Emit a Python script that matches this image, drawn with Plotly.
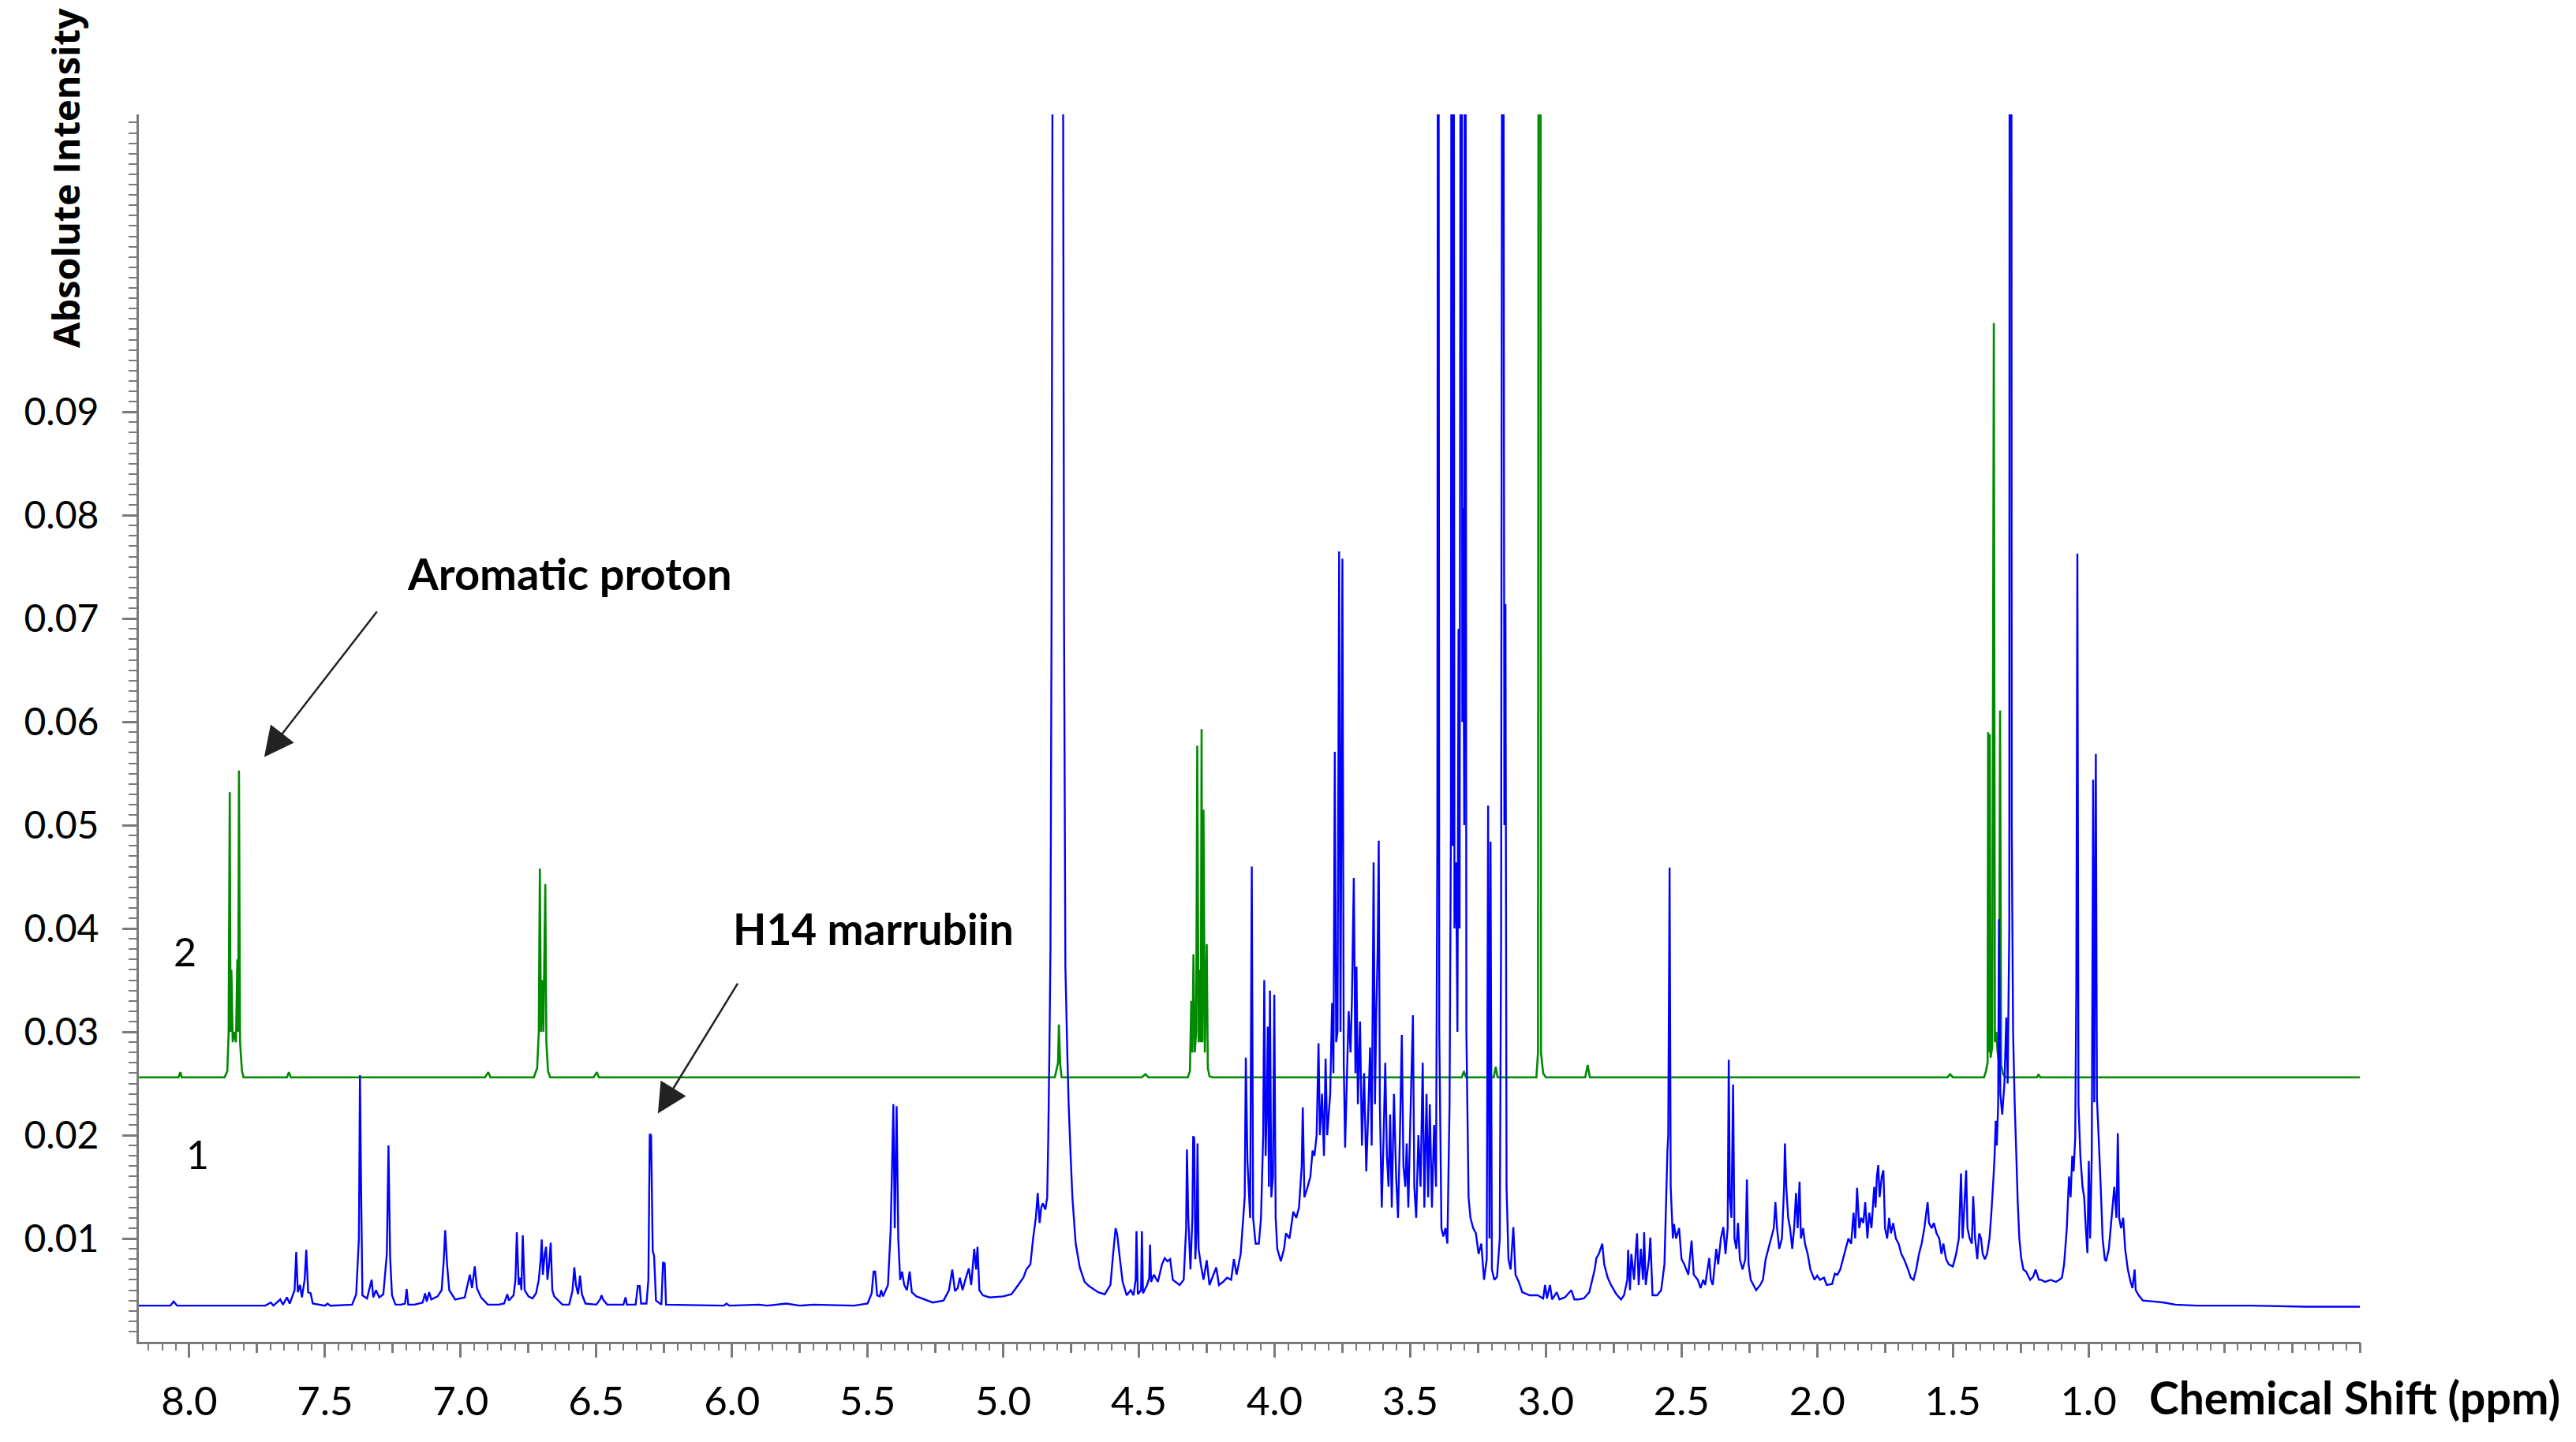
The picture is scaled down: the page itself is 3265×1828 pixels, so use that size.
import plotly.graph_objects as go

# ---------------- data (ppm, absolute intensity) ----------------
# Spectrum 1 (blue)
blue_spectrum = [
    (8.19, 0.0035), (8.07, 0.0035), (8.058, 0.0039), (8.045, 0.0035), (7.72, 0.0035),
    (7.70, 0.0038), (7.69, 0.0035), (7.665, 0.0041), (7.655, 0.0036), (7.64, 0.0043),
    (7.63, 0.0037), (7.612, 0.0050), (7.606, 0.0087), (7.600, 0.0048), (7.592, 0.0055),
    (7.585, 0.0043), (7.575, 0.0060), (7.569, 0.0089), (7.562, 0.0048), (7.553, 0.0047),
    (7.545, 0.0037), (7.50, 0.0035), (7.491, 0.0037), (7.48, 0.0035), (7.40, 0.0036),
    (7.385, 0.0046), (7.375, 0.0100), (7.371, 0.0258), (7.367, 0.0152), (7.362, 0.0045),
    (7.345, 0.0042), (7.328, 0.0060), (7.322, 0.0043), (7.312, 0.0050), (7.30, 0.0043),
    (7.285, 0.0046), (7.272, 0.0085), (7.266, 0.0190), (7.260, 0.0083), (7.253, 0.0045),
    (7.24, 0.0036), (7.22, 0.0036), (7.205, 0.0037), (7.199, 0.0051), (7.193, 0.0036),
    (7.17, 0.0036), (7.14, 0.0038), (7.131, 0.0047), (7.125, 0.0039), (7.116, 0.0048),
    (7.108, 0.0041), (7.085, 0.0044), (7.07, 0.0050), (7.062, 0.0080), (7.057, 0.0108),
    (7.050, 0.0075), (7.042, 0.0050), (7.02, 0.0041), (6.985, 0.0043), (6.972, 0.0058),
    (6.966, 0.0065), (6.958, 0.0052), (6.948, 0.0073), (6.940, 0.0052), (6.925, 0.0043),
    (6.90, 0.0036), (6.86, 0.0036), (6.84, 0.0037), (6.828, 0.0046), (6.822, 0.0040),
    (6.805, 0.0045), (6.798, 0.0060), (6.793, 0.0106), (6.786, 0.0055), (6.780, 0.0062),
    (6.776, 0.0050), (6.771, 0.0103), (6.764, 0.0050), (6.750, 0.0044), (6.735, 0.0042),
    (6.722, 0.0047), (6.712, 0.0060), (6.705, 0.0080), (6.701, 0.0099), (6.697, 0.0065),
    (6.690, 0.0085), (6.685, 0.0092), (6.680, 0.0060), (6.674, 0.0075), (6.668, 0.0096),
    (6.662, 0.0050), (6.655, 0.0044), (6.625, 0.0036), (6.600, 0.0036), (6.588, 0.0049),
    (6.581, 0.0072), (6.575, 0.0055), (6.567, 0.0046), (6.560, 0.0064), (6.553, 0.0046),
    (6.54, 0.0037), (6.50, 0.0036), (6.486, 0.0041), (6.481, 0.0045), (6.475, 0.0041),
    (6.46, 0.0036), (6.40, 0.0036), (6.392, 0.0043), (6.387, 0.0036), (6.355, 0.0036),
    (6.347, 0.0054), (6.340, 0.0054), (6.335, 0.0037), (6.315, 0.0037), (6.308, 0.0060),
    (6.303, 0.0201), (6.298, 0.0200), (6.292, 0.0088), (6.287, 0.0083), (6.280, 0.0040),
    (6.260, 0.0036), (6.254, 0.0077), (6.248, 0.0076), (6.243, 0.0036), (6.03, 0.0035),
    (6.02, 0.0037), (6.01, 0.0035), (5.90, 0.0036), (5.87, 0.0035), (5.80, 0.0037),
    (5.75, 0.0035), (5.70, 0.0036), (5.55, 0.0035), (5.50, 0.0037), (5.485, 0.0047),
    (5.478, 0.0068), (5.472, 0.0068), (5.465, 0.0045), (5.455, 0.0044), (5.450, 0.0050),
    (5.443, 0.0044), (5.425, 0.0055), (5.415, 0.0108), (5.405, 0.0230), (5.400, 0.0110),
    (5.393, 0.0228), (5.387, 0.0100), (5.380, 0.0060), (5.373, 0.0068), (5.365, 0.0055),
    (5.355, 0.0050), (5.345, 0.0068), (5.337, 0.0048), (5.320, 0.0044), (5.26, 0.0038),
    (5.22, 0.0040), (5.200, 0.0050), (5.188, 0.0070), (5.178, 0.0049), (5.168, 0.0052),
    (5.160, 0.0062), (5.150, 0.0050), (5.140, 0.0060), (5.127, 0.0071), (5.118, 0.0055),
    (5.107, 0.0090), (5.100, 0.0070), (5.095, 0.0092), (5.088, 0.0050), (5.075, 0.0045),
    (5.05, 0.0043), (5.00, 0.0044), (4.97, 0.0046), (4.945, 0.0055), (4.926, 0.0062),
    (4.915, 0.0070), (4.900, 0.0075), (4.890, 0.0100), (4.880, 0.0120), (4.873, 0.0144),
    (4.866, 0.0115), (4.860, 0.0130), (4.854, 0.0134), (4.845, 0.0128), (4.838, 0.0140),
    (4.834, 0.0200), (4.830, 0.0280), (4.826, 0.0380), (4.822, 0.0700), (4.818, 0.1300),
    (4.800, 0.3000), (4.780, 0.1300), (4.776, 0.0700), (4.771, 0.0363), (4.764, 0.0280),
    (4.759, 0.0230), (4.752, 0.0182), (4.745, 0.0139), (4.733, 0.0095), (4.718, 0.0072),
    (4.700, 0.0058), (4.684, 0.0054), (4.650, 0.0048), (4.626, 0.0046), (4.605, 0.0055),
    (4.595, 0.0085), (4.586, 0.0110), (4.580, 0.0104), (4.570, 0.0080), (4.560, 0.0058),
    (4.545, 0.0045), (4.530, 0.0050), (4.520, 0.0045), (4.512, 0.0060), (4.509, 0.0107),
    (4.504, 0.0046), (4.492, 0.0050), (4.489, 0.0107), (4.485, 0.0047), (4.470, 0.0055),
    (4.462, 0.0062), (4.459, 0.0094), (4.455, 0.0058), (4.445, 0.0065), (4.430, 0.0058),
    (4.415, 0.0075), (4.405, 0.0081), (4.395, 0.0078), (4.385, 0.0080), (4.375, 0.0060),
    (4.350, 0.0055), (4.335, 0.0060), (4.326, 0.0110), (4.323, 0.0186), (4.318, 0.0120),
    (4.310, 0.0070), (4.303, 0.0120), (4.300, 0.0199), (4.296, 0.0197), (4.292, 0.0080),
    (4.287, 0.0110), (4.284, 0.0192), (4.280, 0.0090), (4.272, 0.0075), (4.262, 0.0060),
    (4.250, 0.0079), (4.240, 0.0055), (4.215, 0.0072), (4.205, 0.0055), (4.190, 0.0058),
    (4.175, 0.0062), (4.160, 0.0060), (4.150, 0.0080), (4.140, 0.0065), (4.125, 0.0085),
    (4.110, 0.0140), (4.106, 0.0275), (4.100, 0.0175), (4.090, 0.0120), (4.084, 0.0460),
    (4.079, 0.0120), (4.070, 0.0095), (4.058, 0.0095), (4.050, 0.0120), (4.042, 0.0200),
    (4.038, 0.0350), (4.033, 0.0180), (4.028, 0.0240), (4.025, 0.0305), (4.021, 0.0150),
    (4.017, 0.0340), (4.012, 0.0140), (4.006, 0.0160), (4.001, 0.0336), (3.996, 0.0120),
    (3.990, 0.0090), (3.977, 0.0078), (3.965, 0.0090), (3.958, 0.0105), (3.945, 0.0100),
    (3.931, 0.0126), (3.920, 0.0120), (3.910, 0.0130), (3.900, 0.0170), (3.896, 0.0227),
    (3.890, 0.0140), (3.878, 0.0150), (3.868, 0.0160), (3.860, 0.0185), (3.853, 0.0180),
    (3.845, 0.0200), (3.838, 0.0289), (3.833, 0.0200), (3.825, 0.0240), (3.818, 0.0180),
    (3.812, 0.0274), (3.806, 0.0200), (3.795, 0.0240), (3.788, 0.0328), (3.783, 0.0260),
    (3.778, 0.0571), (3.773, 0.0290), (3.768, 0.0300), (3.762, 0.0765), (3.757, 0.0300),
    (3.750, 0.0758), (3.745, 0.0270), (3.740, 0.0188), (3.733, 0.0260), (3.727, 0.0320),
    (3.720, 0.0280), (3.715, 0.0330), (3.708, 0.0449), (3.702, 0.0260), (3.698, 0.0363),
    (3.693, 0.0230), (3.685, 0.0310), (3.678, 0.0190), (3.670, 0.0260), (3.662, 0.0165),
    (3.655, 0.0220), (3.648, 0.0285), (3.642, 0.0190), (3.635, 0.0464), (3.630, 0.0230),
    (3.625, 0.0320), (3.620, 0.0380), (3.616, 0.0485), (3.612, 0.0230), (3.605, 0.0130),
    (3.598, 0.0200), (3.592, 0.0270), (3.586, 0.0180), (3.580, 0.0150), (3.574, 0.0220),
    (3.568, 0.0130), (3.560, 0.0240), (3.552, 0.0160), (3.545, 0.0120), (3.538, 0.0200),
    (3.531, 0.0297), (3.525, 0.0170), (3.518, 0.0150), (3.513, 0.0192), (3.507, 0.0130),
    (3.500, 0.0210), (3.490, 0.0316), (3.485, 0.0150), (3.478, 0.0120), (3.470, 0.0200),
    (3.462, 0.0150), (3.454, 0.0270), (3.448, 0.0130), (3.440, 0.0240), (3.434, 0.0140),
    (3.428, 0.0230), (3.420, 0.0130), (3.412, 0.0210), (3.405, 0.0150), (3.400, 0.0496),
    (3.397, 0.2000), (3.393, 0.0300), (3.385, 0.0110), (3.378, 0.0102), (3.370, 0.0110),
    (3.363, 0.0095), (3.355, 0.0230), (3.350, 0.0500), (3.347, 0.2000), (3.344, 0.0480),
    (3.341, 0.2000), (3.337, 0.0400), (3.331, 0.0464), (3.326, 0.0300), (3.322, 0.0690),
    (3.318, 0.0400), (3.312, 0.2000), (3.308, 0.0600), (3.305, 0.0807), (3.301, 0.0500),
    (3.298, 0.2000), (3.293, 0.0300), (3.285, 0.0140), (3.278, 0.0120), (3.268, 0.0110),
    (3.258, 0.0105), (3.248, 0.0085), (3.238, 0.0095), (3.228, 0.0060), (3.218, 0.0080),
    (3.213, 0.0519), (3.208, 0.0100), (3.204, 0.0484), (3.199, 0.0070), (3.190, 0.0060),
    (3.180, 0.0063), (3.170, 0.0100), (3.165, 0.0398), (3.159, 0.2000), (3.153, 0.0500),
    (3.149, 0.0714), (3.145, 0.0150), (3.138, 0.0080), (3.130, 0.0070), (3.120, 0.0111),
    (3.112, 0.0065), (3.100, 0.0058), (3.087, 0.0048), (3.060, 0.0045), (3.030, 0.0045),
    (3.010, 0.0042), (3.003, 0.0055), (2.996, 0.0042), (2.985, 0.0055), (2.977, 0.0041),
    (2.960, 0.0048), (2.950, 0.0041), (2.930, 0.0043), (2.906, 0.0050), (2.895, 0.0041),
    (2.880, 0.0041), (2.860, 0.0042), (2.840, 0.0048), (2.820, 0.0070), (2.814, 0.0081),
    (2.805, 0.0085), (2.792, 0.0095), (2.785, 0.0075), (2.772, 0.0062), (2.760, 0.0055),
    (2.740, 0.0046), (2.723, 0.0041), (2.712, 0.0045), (2.700, 0.0060), (2.697, 0.0089),
    (2.690, 0.0050), (2.685, 0.0085), (2.675, 0.0060), (2.668, 0.0090), (2.664, 0.0105),
    (2.658, 0.0055), (2.650, 0.0090), (2.642, 0.0060), (2.638, 0.0106), (2.632, 0.0055),
    (2.620, 0.0080), (2.615, 0.0101), (2.607, 0.0045), (2.590, 0.0045), (2.575, 0.0050),
    (2.563, 0.0075), (2.552, 0.0185), (2.549, 0.0200), (2.544, 0.0459), (2.540, 0.0150),
    (2.532, 0.0100), (2.528, 0.0114), (2.520, 0.0100), (2.509, 0.0110), (2.500, 0.0080),
    (2.490, 0.0075), (2.475, 0.0065), (2.463, 0.0098), (2.455, 0.0065), (2.440, 0.0060),
    (2.430, 0.0052), (2.420, 0.0060), (2.413, 0.0055), (2.398, 0.0081), (2.392, 0.0060),
    (2.385, 0.0055), (2.372, 0.0090), (2.365, 0.0075), (2.355, 0.0100), (2.346, 0.0111),
    (2.338, 0.0085), (2.330, 0.0110), (2.326, 0.0273), (2.322, 0.0140), (2.316, 0.0120),
    (2.310, 0.0249), (2.305, 0.0100), (2.298, 0.0090), (2.292, 0.0115), (2.285, 0.0080),
    (2.275, 0.0070), (2.265, 0.0080), (2.259, 0.0157), (2.253, 0.0075), (2.245, 0.0060),
    (2.235, 0.0055), (2.225, 0.0050), (2.210, 0.0055), (2.200, 0.0060), (2.190, 0.0080),
    (2.180, 0.0090), (2.170, 0.0100), (2.160, 0.0110), (2.154, 0.0135), (2.148, 0.0110),
    (2.140, 0.0090), (2.130, 0.0100), (2.122, 0.0150), (2.119, 0.0192), (2.114, 0.0150),
    (2.107, 0.0120), (2.100, 0.0110), (2.092, 0.0090), (2.085, 0.0110), (2.078, 0.0144),
    (2.072, 0.0110), (2.065, 0.0155), (2.060, 0.0100), (2.052, 0.0110), (2.045, 0.0095),
    (2.035, 0.0085), (2.025, 0.0070), (2.010, 0.0060), (2.000, 0.0064), (1.990, 0.0060),
    (1.975, 0.0062), (1.965, 0.0055), (1.945, 0.0056), (1.935, 0.0066), (1.925, 0.0065),
    (1.915, 0.0070), (1.905, 0.0080), (1.895, 0.0090), (1.885, 0.0100), (1.875, 0.0095),
    (1.866, 0.0125), (1.860, 0.0100), (1.853, 0.0149), (1.845, 0.0110), (1.838, 0.0120),
    (1.830, 0.0115), (1.823, 0.0135), (1.815, 0.0100), (1.808, 0.0125), (1.800, 0.0110),
    (1.790, 0.0150), (1.785, 0.0130), (1.780, 0.0160), (1.775, 0.0171), (1.770, 0.0140),
    (1.762, 0.0160), (1.756, 0.0166), (1.750, 0.0110), (1.742, 0.0100), (1.735, 0.0120),
    (1.728, 0.0105), (1.720, 0.0115), (1.710, 0.0100), (1.700, 0.0095), (1.690, 0.0085),
    (1.680, 0.0080), (1.665, 0.0070), (1.655, 0.0062), (1.645, 0.0060), (1.635, 0.0070),
    (1.625, 0.0085), (1.615, 0.0095), (1.605, 0.0110), (1.598, 0.0125), (1.593, 0.0135),
    (1.588, 0.0115), (1.578, 0.0110), (1.570, 0.0115), (1.560, 0.0105), (1.550, 0.0100),
    (1.542, 0.0085), (1.535, 0.0095), (1.525, 0.0080), (1.515, 0.0075), (1.500, 0.0073),
    (1.488, 0.0085), (1.478, 0.0100), (1.470, 0.0163), (1.464, 0.0100), (1.458, 0.0130),
    (1.451, 0.0166), (1.446, 0.0110), (1.438, 0.0100), (1.430, 0.0095), (1.425, 0.0141),
    (1.418, 0.0100), (1.410, 0.0080), (1.403, 0.0105), (1.396, 0.0100), (1.390, 0.0085),
    (1.382, 0.0080), (1.374, 0.0085), (1.365, 0.0100), (1.358, 0.0125), (1.350, 0.0160),
    (1.346, 0.0181), (1.342, 0.0214), (1.338, 0.0190), (1.333, 0.0230), (1.330, 0.0409),
    (1.325, 0.0240), (1.318, 0.0220), (1.310, 0.0250), (1.303, 0.0314), (1.298, 0.0250),
    (1.292, 0.0400), (1.290, 0.2000), (1.285, 0.2000), (1.283, 0.0500), (1.278, 0.0300),
    (1.272, 0.0230), (1.266, 0.0180), (1.261, 0.0136), (1.255, 0.0100), (1.248, 0.0081),
    (1.240, 0.0070), (1.230, 0.0068), (1.215, 0.0060), (1.204, 0.0063), (1.195, 0.0070),
    (1.183, 0.0060), (1.175, 0.0060), (1.160, 0.0058), (1.140, 0.0060), (1.120, 0.0058),
    (1.108, 0.0060), (1.098, 0.0062), (1.090, 0.0075), (1.080, 0.0110), (1.072, 0.0160),
    (1.066, 0.0140), (1.060, 0.0180), (1.055, 0.0165), (1.049, 0.0197), (1.045, 0.0344),
    (1.041, 0.0763), (1.037, 0.0230), (1.030, 0.0180), (1.022, 0.0150), (1.016, 0.0140),
    (1.010, 0.0110), (1.004, 0.0086), (0.999, 0.0175), (0.994, 0.0100), (0.988, 0.0180),
    (0.983, 0.0544), (0.979, 0.0232), (0.973, 0.0569), (0.969, 0.0236), (0.963, 0.0200),
    (0.955, 0.0150), (0.948, 0.0100), (0.940, 0.0080), (0.935, 0.0078), (0.925, 0.0090),
    (0.915, 0.0120), (0.905, 0.0150), (0.897, 0.0120), (0.892, 0.0202), (0.887, 0.0120),
    (0.880, 0.0110), (0.872, 0.0120), (0.865, 0.0090), (0.855, 0.0070), (0.845, 0.0058),
    (0.838, 0.0052), (0.830, 0.0070), (0.826, 0.0050), (0.815, 0.0045), (0.800, 0.0040),
    (0.760, 0.0039), (0.722, 0.0038), (0.680, 0.0036), (0.600, 0.0035), (0.400, 0.0035),
    (0.200, 0.0034), (0.000, 0.0034),
]

# Spectrum 2 (green)
green_spectrum = [
    (8.19, 0.0256), (8.04, 0.0256), (8.033, 0.0261), (8.028, 0.0256), (7.87, 0.0256),
    (7.860, 0.0262), (7.855, 0.0300), (7.851, 0.0532), (7.848, 0.0300), (7.845, 0.0360),
    (7.840, 0.0290), (7.835, 0.0300), (7.828, 0.0290), (7.823, 0.0370), (7.820, 0.0300),
    (7.817, 0.0553), (7.813, 0.0290), (7.806, 0.0262), (7.80, 0.0256), (7.64, 0.0256),
    (7.633, 0.0261), (7.626, 0.0256), (6.91, 0.0256), (6.898, 0.0261), (6.890, 0.0256),
    (6.73, 0.0256), (6.718, 0.0265), (6.712, 0.0300), (6.708, 0.0458), (6.704, 0.0300),
    (6.700, 0.0350), (6.695, 0.0300), (6.688, 0.0443), (6.684, 0.0290), (6.678, 0.0262),
    (6.67, 0.0256), (6.51, 0.0256), (6.498, 0.0261), (6.490, 0.0256), (4.81, 0.0256),
    (4.798, 0.0270), (4.795, 0.0307), (4.790, 0.0268), (4.785, 0.0256), (4.49, 0.0256),
    (4.476, 0.0259), (4.465, 0.0256), (4.32, 0.0256), (4.312, 0.0262), (4.307, 0.0330),
    (4.303, 0.0280), (4.299, 0.0375), (4.294, 0.0280), (4.289, 0.0300), (4.285, 0.0577),
    (4.280, 0.0290), (4.275, 0.0360), (4.272, 0.0290), (4.269, 0.0593), (4.266, 0.0290),
    (4.262, 0.0515), (4.257, 0.0280), (4.250, 0.0385), (4.246, 0.0265), (4.240, 0.0257),
    (4.23, 0.0256), (3.31, 0.0256), (3.302, 0.0262), (3.295, 0.0256), (3.192, 0.0256),
    (3.185, 0.0266), (3.178, 0.0256), (3.035, 0.0256), (3.029, 0.0280), (3.026, 0.2000),
    (3.021, 0.2000), (3.018, 0.0280), (3.010, 0.0260), (3.000, 0.0256), (2.855, 0.0256),
    (2.846, 0.0268), (2.838, 0.0256), (1.52, 0.0256), (1.510, 0.0259), (1.500, 0.0256),
    (1.385, 0.0256), (1.378, 0.0262), (1.372, 0.0270), (1.370, 0.0590), (1.367, 0.0280),
    (1.364, 0.0588), (1.361, 0.0275), (1.355, 0.0285), (1.349, 0.0986), (1.345, 0.0290),
    (1.340, 0.0300), (1.335, 0.0280), (1.330, 0.0270), (1.326, 0.0611), (1.322, 0.0268),
    (1.315, 0.0259), (1.305, 0.0256), (1.190, 0.0256), (1.184, 0.0259), (1.178, 0.0256),
    (0.0, 0.0256),
]

x_label_values = [8.0, 7.5, 7.0, 6.5, 6.0, 5.5, 5.0, 4.5, 4.0, 3.5, 3.0, 2.5, 2.0, 1.5, 1.0]
y_label_values = [0.01, 0.02, 0.03, 0.04, 0.05, 0.06, 0.07, 0.08, 0.09]

x_range = [8.186, 0.0]
y_range = [0.0, 0.1188]

blue_ppm, blue_int = zip(*blue_spectrum)
green_ppm, green_int = zip(*green_spectrum)

# ---------------- ticks ----------------
x_minor_vals = [round(i * 0.05, 2) for i in range(0, 164)]
x_mid_vals = [round(i * 0.25, 2) for i in range(0, 33)]
y_major_vals = [round(i * 0.005, 3) for i in range(1, 24)]
y_major_text = [f"{v:.2f}" if any(abs(v - w) < 1e-9 for w in y_label_values) else "" for v in y_major_vals]
y_minor_vals = [round(i * 0.001, 3) for i in range(1, 119)]

AXIS_GRAY = "#7a7a7a"

fig = go.Figure()
fig.add_trace(go.Scatter(x=list(green_ppm), y=list(green_int), mode="lines",
                         line=dict(color="#008a00", width=2.6, simplify=False),
                         hoverinfo="skip", name="2"))
fig.add_trace(go.Scatter(x=list(blue_ppm), y=list(blue_int), mode="lines",
                         line=dict(color="#0000ff", width=2.4, simplify=False),
                         hoverinfo="skip", name="1"))
# empty trace that carries the overlay axis used for the medium x tick marks
fig.add_trace(go.Scatter(x=[], y=[], xaxis="x2", yaxis="y", showlegend=False, hoverinfo="skip"))

# the page body keeps the browser's 8 px margin, so the figure is 16 px smaller
fig.update_layout(
    width=3249, height=1812,
    margin=dict(l=168, r=266, t=137, b=119),
    plot_bgcolor="white", paper_bgcolor="white",
    showlegend=False,
    font=dict(family="Lato", color="black"),
    xaxis=dict(
        range=x_range, showgrid=False, zeroline=False,
        showline=True, linecolor=AXIS_GRAY, linewidth=3,
        ticks="outside", ticklen=17, tickwidth=2.5, tickcolor=AXIS_GRAY,
        tickmode="array", tickvals=x_label_values,
        ticktext=[f"{v:.1f}" for v in x_label_values],
        tickfont=dict(family="Lato", size=51, color="black"),
        ticklabelstandoff=12,
        minor=dict(tickmode="array", tickvals=x_minor_vals, ticks="outside",
                   ticklen=8, tickwidth=2, tickcolor=AXIS_GRAY, showgrid=False),
    ),
    xaxis2=dict(
        range=x_range, overlaying="x", anchor="y", side="bottom",
        showgrid=False, zeroline=False, showline=False,
        ticks="outside", ticklen=13, tickwidth=2.5, tickcolor=AXIS_GRAY,
        tickmode="array", tickvals=x_mid_vals, showticklabels=False,
    ),
    yaxis=dict(
        range=y_range, showgrid=False, zeroline=False,
        showline=True, linecolor=AXIS_GRAY, linewidth=3,
        ticks="outside", ticklen=18, tickwidth=2.5, tickcolor=AXIS_GRAY,
        tickmode="array", tickvals=y_major_vals, ticktext=y_major_text,
        tickfont=dict(family="Lato", size=48, color="black"),
        ticklabelstandoff=20,
        minor=dict(tickmode="array", tickvals=y_minor_vals, ticks="outside",
                   ticklen=10, tickwidth=2, tickcolor=AXIS_GRAY, showgrid=False),
    ),
    annotations=[
        dict(text="<b>Absolute Intensity</b>", xref="paper", yref="paper",
             x=-0.033, y=0.948, textangle=-90, showarrow=False,
             xanchor="center", yanchor="middle",
             font=dict(family="Open Sans", size=47, color="black")),
        dict(text="<b>Chemical Shift (ppm)</b>", xref="paper", yref="paper",
             x=0.9044, y=-0.045, showarrow=False, xanchor="left", yanchor="middle",
             font=dict(family="Lato", size=57, color="black")),
        dict(text="<b>Aromatic proton</b>", xref="x", yref="y", x=6.598, y=0.0744,
             showarrow=False, xanchor="center", yanchor="middle",
             font=dict(family="Lato", size=56, color="black")),
        dict(text="<b>H14 marrubiin</b>", xref="x", yref="y", x=5.479, y=0.0400,
             showarrow=False, xanchor="center", yanchor="middle",
             font=dict(family="Lato", size=55, color="black")),
        dict(text="2", xref="x", yref="y", x=8.017, y=0.0378, showarrow=False,
             font=dict(family="Lato", size=50, color="black")),
        dict(text="1", xref="x", yref="y", x=7.968, y=0.0182, showarrow=False,
             font=dict(family="Lato", size=50, color="black")),
        dict(text="", xref="x", yref="y", x=7.724, y=0.0566, axref="x", ayref="y",
             ax=7.305, ay=0.0708, showarrow=True, arrowhead=2, arrowsize=3.0,
             arrowwidth=2.5, arrowcolor="#222222"),
        dict(text="", xref="x", yref="y", x=6.273, y=0.0221, axref="x", ayref="y",
             ax=5.976, ay=0.0348, showarrow=True, arrowhead=2, arrowsize=3.0,
             arrowwidth=2.5, arrowcolor="#222222"),
    ],
)

fig.write_html("out.html")
